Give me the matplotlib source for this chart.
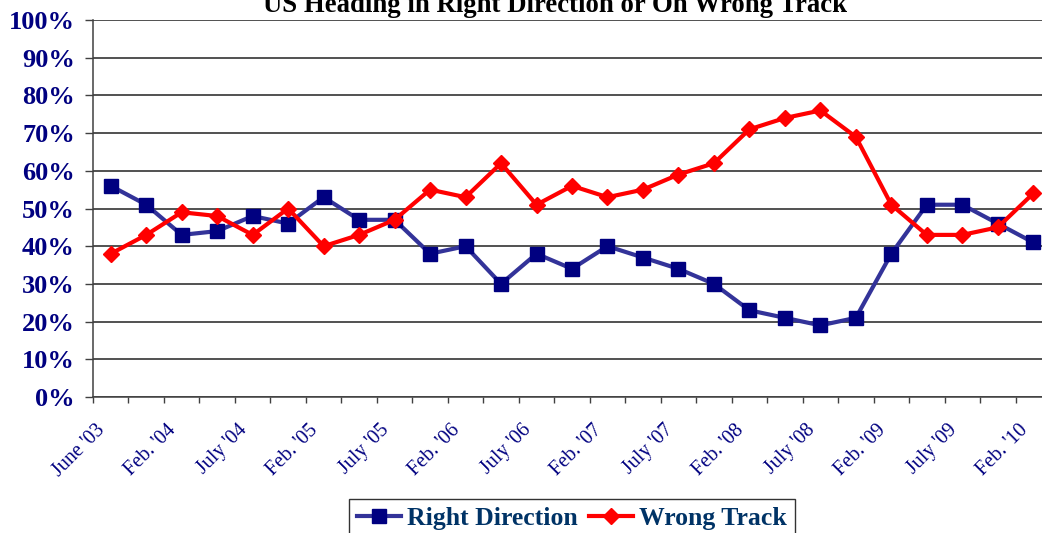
import matplotlib
matplotlib.use("Agg")
import matplotlib.pyplot as plt

plt.rcParams['font.family'] = ['Liberation Serif', 'DejaVu Serif']

# survey waves (every other one gets a label)
labels = ["June '03", "Feb. '04", "July '04", "Feb. '05", "July '05", "Feb. '06",
          "July '06", "Feb. '07", "July '07", "Feb. '08", "July '08", "Feb. '09",
          "July '09", "Feb. '10"]

right_direction = [56, 51, 43, 44, 48, 46, 53, 47, 47, 38, 40, 30, 38, 34,
                   40, 37, 34, 30, 23, 21, 19, 21, 38, 51, 51, 46, 41]
wrong_track = [38, 43, 49, 48, 43, 50, 40, 43, 47, 55, 53, 62, 51, 56,
               53, 55, 59, 62, 71, 74, 76, 69, 51, 43, 43, 45, 54]

navy = '#000080'
x = list(range(len(right_direction)))

fig = plt.figure(figsize=(10.42, 5.33), dpi=100)
ax = fig.add_axes([93 / 1042, 136 / 533, 958 / 1042, 377 / 533])

ax.plot(x, right_direction, color='#333399', lw=3, marker='s', ms=10.5,
        mfc=navy, mec=navy, label='Right Direction', zorder=3)
ax.plot(x, wrong_track, color='#ff0000', lw=3, marker='D', ms=8,
        mfc='#ff0000', mec='#ff0000', label='Wrong Track', zorder=3)

ax.set_xlim(-0.5, len(x) - 0.5)
ax.set_ylim(0, 100)

ax.set_yticks(range(0, 101, 10))
ax.set_yticklabels([f'{v}%' for v in range(0, 101, 10)])
ax.yaxis.grid(True, color='#222222', lw=1.1)
ax.set_axisbelow(True)
ax.tick_params(axis='y', length=5.5, width=1, color='#404040', pad=7.5,
               labelsize=19, labelcolor=navy)
for t in ax.get_yticklabels():
    t.set_fontweight('bold')

# labels sit slightly left of their category, as in the original
ax.set_xticks([i - 0.42 for i in x[::2]])
ax.set_xticklabels(labels, rotation=45, ha='right', rotation_mode='anchor',
                   color=navy, fontsize=14.5)
ax.set_xticks([i - 0.5 for i in range(len(x) + 1)], minor=True)
ax.tick_params(axis='x', which='major', length=0, pad=17)
ax.tick_params(axis='x', which='minor', length=4.5, width=1, color='#404040')

for s in ['top', 'right']:
    ax.spines[s].set_visible(False)
for s in ['left', 'bottom']:
    ax.spines[s].set_color('#404040')
    ax.spines[s].set_linewidth(1.1)

fig.text(555 / 1042, 1 - 12 / 533, 'US Heading in Right Direction or On Wrong Track',
         ha='center', va='baseline', fontsize=19.3, fontweight='bold')

leg = fig.legend(loc='upper center', bbox_to_anchor=(572 / 1042, 1 - 499 / 533),
                 ncol=2, frameon=True, fancybox=False, edgecolor='black',
                 prop={'family': 'Liberation Serif', 'weight': 'bold', 'size': 18.5},
                 handlelength=1.7, columnspacing=0.45, handletextpad=0.25,
                 borderpad=0.3, borderaxespad=0)
leg.get_frame().set_linewidth(1)
for t in leg.get_texts():
    t.set_color('#003366')

fig.savefig('out.png', dpi=100)
